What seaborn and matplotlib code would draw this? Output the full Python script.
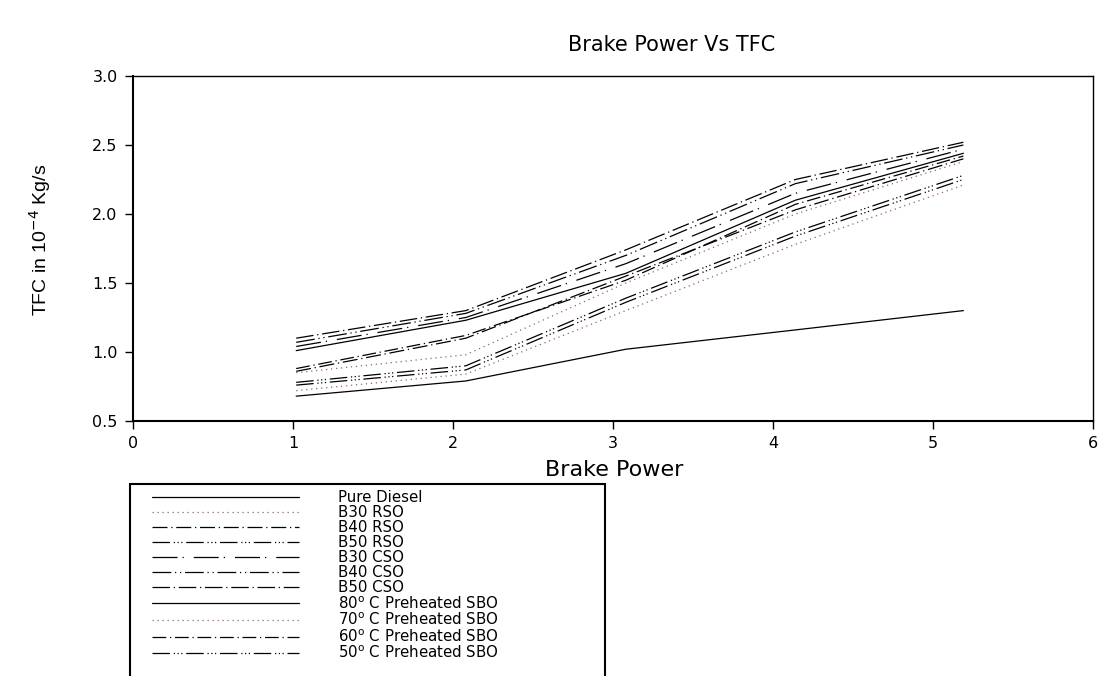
import pandas as pd
import matplotlib.pyplot as plt
import seaborn as sns
from matplotlib.patches import Rectangle

brake_power = [1.02, 2.08, 3.08, 4.14, 5.19]

series_names = ['Pure Diesel', 'B30 RSO', 'B40 RSO', 'B50 RSO', 'B30 CSO', 'B40 CSO', 'B50 CSO',
                '80$^\\mathrm{o}$ C Preheated SBO', '70$^\\mathrm{o}$ C Preheated SBO',
                '60$^\\mathrm{o}$ C Preheated SBO', '50$^\\mathrm{o}$ C Preheated SBO']

pure_diesel = [0.68, 0.79, 1.02, 1.16, 1.30]
b30_rso = [0.72, 0.84, 1.30, 1.78, 2.21]
b40_rso = [0.86, 1.10, 1.55, 2.03, 2.40]
b50_rso = [0.78, 0.90, 1.39, 1.87, 2.28]
b30_cso = [1.04, 1.25, 1.64, 2.15, 2.47]
b40_cso = [1.07, 1.28, 1.70, 2.22, 2.50]
b50_cso = [1.10, 1.30, 1.74, 2.25, 2.52]
sbo_80 = [1.01, 1.23, 1.57, 2.10, 2.44]
sbo_70 = [0.85, 0.98, 1.50, 2.00, 2.38]
sbo_60 = [0.88, 1.12, 1.52, 2.07, 2.42]
sbo_50 = [0.76, 0.87, 1.36, 1.84, 2.25]

all_vals = [pure_diesel, b30_rso, b40_rso, b50_rso, b30_cso, b40_cso, b50_cso,
            sbo_80, sbo_70, sbo_60, sbo_50]

rows = []
for name, vals in zip(series_names, all_vals):
    for x, y in zip(brake_power, vals):
        rows.append({'bp': x, 'tfc': y, 'series': name})
df = pd.DataFrame(rows)

# estilos de linha (igual ao grafico original)
dot_col = '#9a5a8e'
dash_styles = {
    series_names[0]: '',
    series_names[1]: (1, 3),
    series_names[2]: (12, 3, 1, 3),
    series_names[3]: (14, 3, 1, 2, 1, 2, 1, 3),
    series_names[4]: (20, 4, 1, 8),
    series_names[5]: (15, 3, 1, 3, 1, 3),
    series_names[6]: (14, 3, 1, 3),
    series_names[7]: '',
    series_names[8]: (1, 3),
    series_names[9]: (11, 3, 1, 3),
    series_names[10]: (14, 3, 1, 2, 1, 2, 1, 3),
}
colors = {n: 'black' for n in series_names}
colors[series_names[1]] = dot_col
colors[series_names[8]] = dot_col

sns.set_style('ticks')
plt.rcParams['font.family'] = ['DejaVu Sans']
plt.rcParams['font.stretch'] = 'normal'
plt.rcParams['mathtext.fontset'] = 'dejavusans'

fig = plt.figure(figsize=(11.05, 6.76), dpi=100)
ax = fig.add_axes([133 / 1105, 1 - 421 / 676, 960 / 1105, 345 / 676])

sns.lineplot(data=df, x='bp', y='tfc', hue='series', style='series', hue_order=series_names,
             style_order=series_names, palette=colors, dashes=dash_styles, linewidth=0.9,
             legend=False, ax=ax, estimator=None, sort=True)

ax.set_xlim(0, 6)
ax.set_ylim(0.5, 3.0)
ax.set_xticks(range(0, 7))
ax.set_yticks([0.5, 1.0, 1.5, 2.0, 2.5, 3.0])
ax.set_yticklabels(['0.5', '1.0', '1.5', '2.0', '2.5', '3.0'])
ax.tick_params(labelsize=11.5, length=6, width=1, color='black', labelcolor='black',
               direction='out', pad=5)
for s in ax.spines.values():
    s.set_visible(True)
    s.set_color('black')
    s.set_linewidth(1.0)
ax.spines['left'].set_linewidth(1.5)
ax.spines['bottom'].set_linewidth(1.5)

ax.set_xlabel('')
ax.set_ylabel('')
fig.text(614 / 1105, 1 - 470 / 676, 'Brake Power', ha='center', va='center', fontsize=16,
         color='black')
fig.text(40 / 1105, 1 - 240 / 676, 'TFC in 10$^{-4}$ Kg/s', rotation=90, ha='center', va='center',
         fontsize=14, color='black',
         family=['Liberation Sans Narrow', 'Liberation Sans', 'DejaVu Sans'])
fig.text(672 / 1105, 1 - 45 / 676, 'Brake Power Vs TFC', ha='center', va='center', fontsize=15,
         color='black')

# caixa da legenda (cortada embaixo como no original)
fig.patches.append(Rectangle((130 / 1105, -0.05), 475 / 1105, 1 - 484 / 676 + 0.05,
                             transform=fig.transFigure, fill=False, edgecolor='black', linewidth=1.5))

handles = ax.get_lines()[:len(series_names)]
leg = fig.legend(handles, series_names, loc='upper left', bbox_to_anchor=(152 / 1105, 1 - 490 / 676),
                 frameon=False, prop={'family': 'DejaVu Sans', 'stretch': 'normal', 'size': 10.8},
                 handlelength=9.8, handletextpad=2.6, labelspacing=0.0, borderpad=0,
                 borderaxespad=0)
for t in leg.get_texts():
    t.set_color('black')

fig.savefig('out.png', dpi=100)
